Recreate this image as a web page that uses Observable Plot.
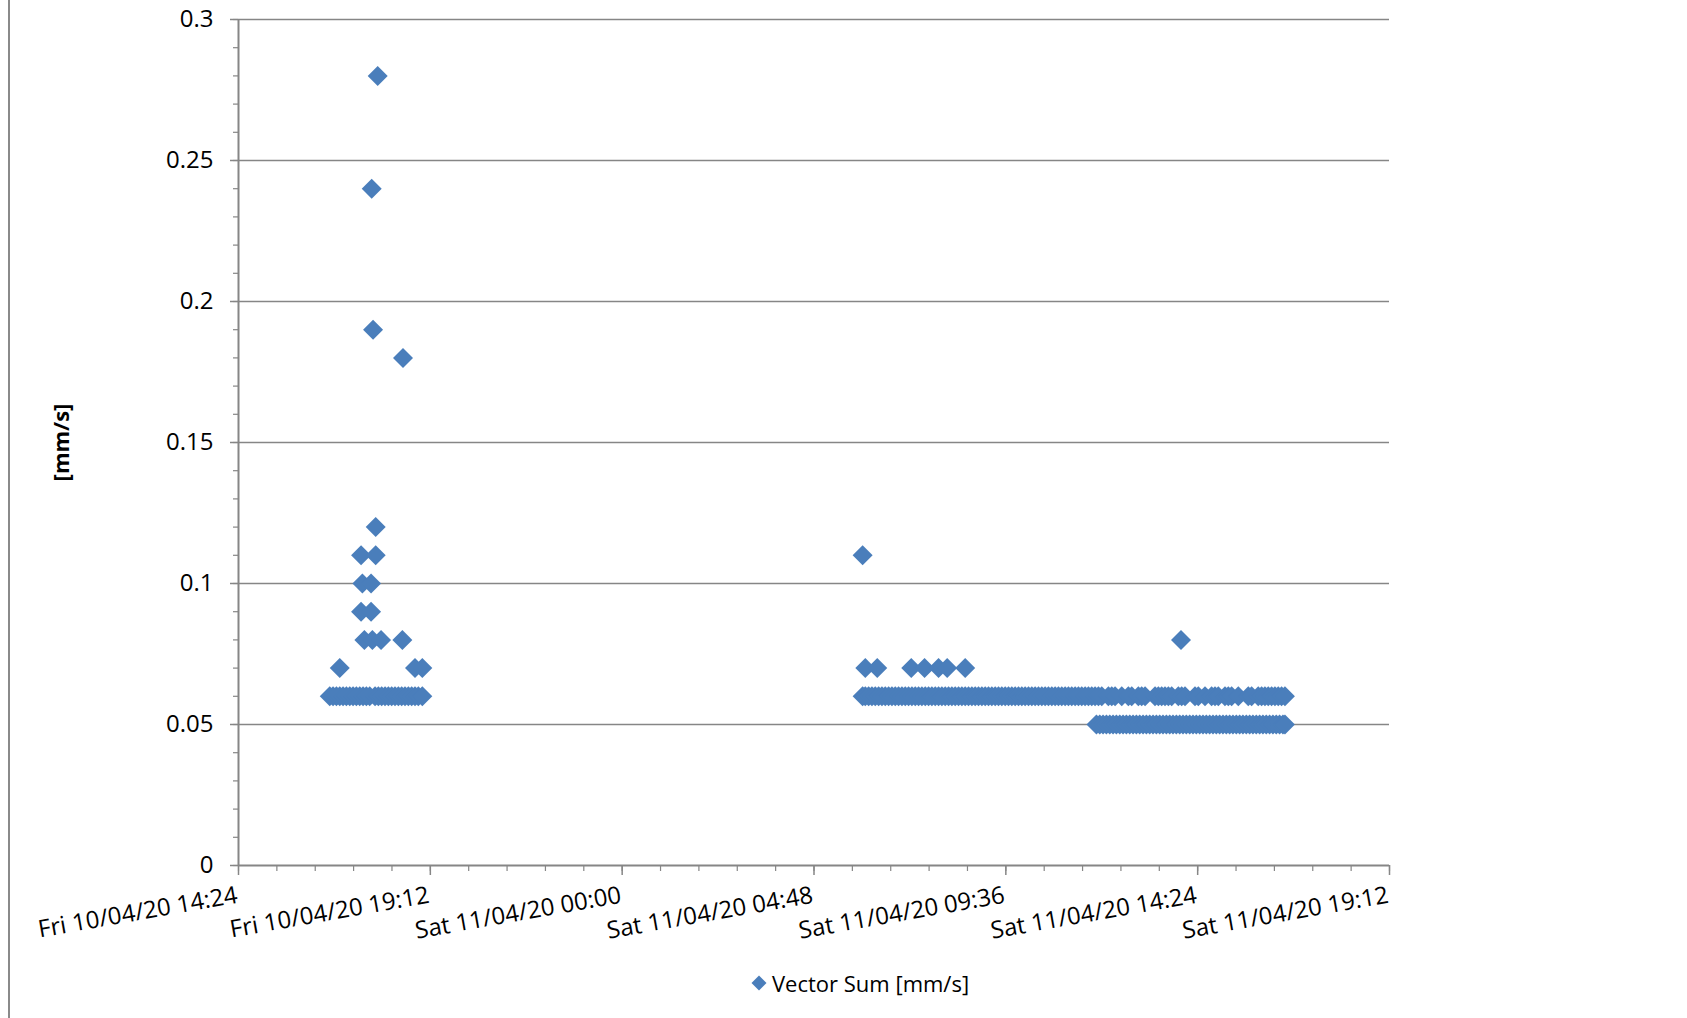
<!DOCTYPE html>
<html>
<head>
<meta charset="utf-8">
<script src="https://cdn.jsdelivr.net/npm/d3@7"></script>
<script src="https://cdn.jsdelivr.net/npm/@observablehq/plot@0.6"></script>
<style>
  html, body { margin: 0; padding: 0; background: #fff; }
  #wrap { position: relative; width: 1687px; height: 1018px; overflow: hidden; font-family: "Open Sans", sans-serif; }
  #border { position: absolute; left: 8px; top: 0; width: 2px; height: 1018px; background: #8a8a8a; }
  #legend { position: absolute; left: 751px; top: 968px; display: flex; align-items: center; font-size: 22px; color: #000; white-space: nowrap; }
  #legend svg { margin-right: 5px; }
</style>
</head>
<body>
<div id="wrap"><div id="border"></div><div id="chart"></div>
<div id="legend"><svg width="16" height="16"><polygon points="8,0.5 15.5,8 8,15.5 0.5,8" fill="#4A7EBB"/></svg><span>Vector Sum [mm/s]</span></div>
</div>
<script>
// ---- Data ----
const seriesName = "Vector Sum [mm/s]";
const yTitle = "[mm/s]";
const xTickLabels = ["Fri 10/04/20 14:24", "Fri 10/04/20 19:12", "Sat 11/04/20 00:00", "Sat 11/04/20 04:48", "Sat 11/04/20 09:36", "Sat 11/04/20 14:24", "Sat 11/04/20 19:12"];
const yTicks = [0, 0.05, 0.1, 0.15, 0.2, 0.25, 0.3];
const yTickLabels = ["0", "0.05", "0.1", "0.15", "0.2", "0.25", "0.3"];

// Fri 10/04/20: dense run at 0.06 mm/s
const friBand006 = ["16:41","16:46","16:51","16:56","17:01","17:06","17:11","17:16","17:21","17:26","17:31","17:36","17:41","17:49","17:54","17:59","18:04","18:09","18:14","18:19","18:24","18:29","18:34","18:39","18:44","18:49","18:54","19:00"];
// Fri 10/04/20: other readings
const friTimes = ["16:56","18:49","19:00","17:33","17:45","17:58","18:30","17:28","17:43","17:30","17:43","17:28","17:50","17:50","18:31","17:46","17:44","17:53"];
const friValues = [0.07, 0.07, 0.07, 0.08, 0.08, 0.08, 0.08, 0.09, 0.09, 0.10, 0.10, 0.11, 0.11, 0.12, 0.18, 0.19, 0.24, 0.28];

// Sat 11/04/20: dense run at 0.06 mm/s
const satBand006 = ["06:01","06:05","06:10","06:15","06:20","06:25","06:30","06:35","06:40","06:45","06:50","06:55",
  "07:00","07:05","07:10","07:15","07:20","07:25","07:30","07:35","07:40","07:45","07:50","07:55",
  "08:00","08:05","08:10","08:15","08:20","08:25","08:30","08:35","08:40","08:45","08:50","08:55",
  "09:00","09:05","09:10","09:15","09:20","09:25","09:30","09:35","09:40","09:45","09:50","09:55",
  "10:00","10:05","10:10","10:15","10:20","10:25","10:30","10:35","10:40","10:45","10:50","10:55",
  "11:00","11:05","11:10","11:15","11:20","11:25","11:30","11:35","11:40","11:45","11:50","11:55",
  "12:00","12:10","12:15","12:20","12:30","12:40","12:45","12:55","13:00","13:05","13:20","13:25",
  "13:30","13:35","13:40","13:45","13:55","14:00","14:05","14:20","14:25","14:35","14:45","14:50",
  "14:55","15:05","15:10","15:15","15:25","15:40","15:45","15:55","16:00","16:05","16:10","16:15",
  "16:20","16:25","16:30","16:35"];
// Sat 11/04/20: dense run at 0.05 mm/s
const satBand005 = ["11:52","11:57","12:02","12:07","12:12","12:17","12:22","12:27","12:32","12:37","12:42","12:47",
  "12:52","12:57","13:02","13:07","13:12","13:17","13:22","13:27","13:32","13:37","13:42","13:47",
  "13:52","13:57","14:02","14:07","14:12","14:17","14:22","14:27","14:32","14:37","14:42","14:47",
  "14:52","14:57","15:02","15:07","15:12","15:17","15:22","15:27","15:32","15:37","15:42","15:47",
  "15:52","15:57","16:02","16:07","16:12","16:17","16:22","16:27","16:32","16:35"];
// Sat 11/04/20: other readings
const satTimes = ["06:01","06:05","06:23","07:14","07:34","07:55","08:08","08:35","13:59"];
const satValues = [0.11, 0.07, 0.07, 0.07, 0.07, 0.07, 0.07, 0.07, 0.08];

// ---- Build table ----
function at(day, hm) {
  const [h, m] = hm.split(":").map(Number);
  return new Date(Date.UTC(2020, 3, day, h, m));
}
function parseLabel(s) {
  const [, dmy, hm] = s.split(" ");
  const [d, mo, y] = dmy.split("/").map(Number);
  const [h, m] = hm.split(":").map(Number);
  return new Date(Date.UTC(2000 + y, mo - 1, d, h, m));
}
const data = [];
friBand006.forEach(t => data.push({time: at(10, t), value: 0.06}));
friTimes.forEach((t, i) => data.push({time: at(10, t), value: friValues[i]}));
satBand006.forEach(t => data.push({time: at(11, t), value: 0.06}));
satBand005.forEach(t => data.push({time: at(11, t), value: 0.05}));
satTimes.forEach((t, i) => data.push({time: at(11, t), value: satValues[i]}));

const xTicks = xTickLabels.map(parseLabel);
const xDomain = [xTicks[0], xTicks[xTicks.length - 1]];
const minorStep = (xTicks[1] - xTicks[0]) / 5;
const xMinor = d3.range(+xDomain[0], +xDomain[1] + 1, minorStep).map(v => new Date(v));
const yMinor = d3.range(0, 31).map(v => v / 100);

const gray = "#868686";
const blue = "#4A7EBB";

const chart = Plot.plot({
  width: 1687,
  height: 950,
  marginLeft: 238,
  marginRight: 298,
  marginTop: 19,
  marginBottom: 85,
  style: {fontFamily: "'Open Sans', sans-serif", background: "transparent"},
  x: {type: "utc", domain: xDomain},
  y: {domain: [0, 0.3]},
  marks: [
    Plot.gridY(yTicks.filter(d => d > 0), {stroke: gray, strokeOpacity: 1, strokeWidth: 1.5}),
    Plot.axisY(yMinor, {tickSize: 5, tickFormat: () => "", stroke: gray, strokeWidth: 1.2, label: null}),
    Plot.axisY(yTicks, {tickSize: 8, tickPadding: 17, tickFormat: d => yTickLabels[yTicks.indexOf(d)], stroke: gray, strokeWidth: 1.5, fill: "#000", fontSize: 24, label: null}),
    Plot.axisX(xMinor, {tickSize: 6, tickFormat: () => "", stroke: gray, strokeWidth: 1.2, label: null}),
    Plot.axisX(xTicks, {tickSize: 10, tickFormat: () => "", stroke: gray, strokeWidth: 1.5, label: null}),
    Plot.ruleX([xDomain[0]], {stroke: gray, strokeWidth: 2}),
    Plot.ruleY([0], {stroke: gray, strokeWidth: 2}),
    Plot.text(xTicks, {x: d => d, frameAnchor: "bottom", text: (d, i) => xTickLabels[i], textAnchor: "end", rotate: -10, dy: 37, dx: 0, fontSize: 24, fill: "#000"}),
    Plot.text([yTitle], {frameAnchor: "left", textAnchor: "middle", dx: -177, dy: 0, rotate: -90, fontSize: 22, fontWeight: "bold", fill: "#000"}),
    Plot.dot(data, {x: "time", y: "value", symbol: "diamond2", r: 9, fill: blue, stroke: "none"})
  ]
});
document.getElementById("chart").appendChild(chart);
</script>
</body>
</html>
